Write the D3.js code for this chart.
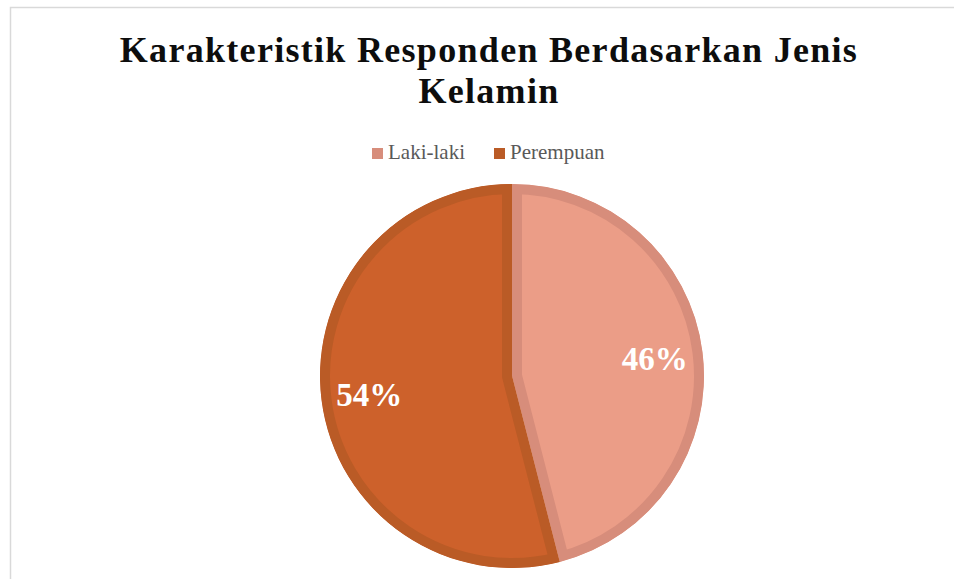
<!DOCTYPE html>
<html>
<head>
<meta charset="utf-8">
<script src="https://cdn.jsdelivr.net/npm/d3@7"></script>
<style>
  html, body { margin: 0; padding: 0; background: #fff; }
  svg { display: block; }
</style>
</head>
<body>
<svg></svg>
<script>
var categories = ["Laki-laki", "Perempuan"];
var values = [46, 54];
var fills = ["#EB9D87", "#CD612B"];
var strokes = ["#D78D7B", "#BA5B26"];
var titleLines = ["Karakteristik Responden Berdasarkan Jenis", "Kelamin"];

var width = 954,
    height = 579;

var svg = d3.select("svg")
    .attr("width", width)
    .attr("height", height)

// chart frame (goes off the right and bottom edges)
svg.append("rect")
    .attr("x", 10.5)
    .attr("y", 7.5)
    .attr("width", 980)
    .attr("height", 600)
    .attr("fill", "#fff")
    .attr("stroke", "#d9d9d9")
    .attr("stroke-width", 1.5)

var serif = "'Liberation Serif', 'DejaVu Serif', serif";

// title
svg.append("g")
    .selectAll("text")
    .data(titleLines)
    .join("text")
    .attr("x", 489)
    .attr("y", (d, i) => 62 + i * 41)
    .attr("text-anchor", "middle")
    .style("font-family", serif)
    .style("font-weight", "bold")
    .style("font-size", "36px")
    .style("letter-spacing", "1.3px")
    .attr("fill", "#0d0d0d")
    .text(d => d)

// legend
var legendX = d3.scalePoint()
    .domain(categories)
    .range([372, 494])

var legend = svg.append("g")
    .selectAll("g")
    .data(categories)
    .join("g")
    .attr("transform", d => "translate(" + legendX(d) + ",148)")

legend.append("rect")
    .attr("width", 11)
    .attr("height", 11)
    .attr("fill", (d, i) => strokes[i])

legend.append("text")
    .attr("x", 16)
    .attr("y", 11)
    .style("font-family", serif)
    .style("font-size", "21px")
    .attr("fill", "#595959")
    .text(d => d)

// pie
var cx = 512,
    cy = 376,
    radius = 192,
    borderW = 10;

var pie = d3.pie()
    .sort(null)
    .value(d => d)

var arcs = pie(values)

var arc = d3.arc()
    .innerRadius(0)
    .outerRadius(radius)

var pieGroup = svg.append("g")
    .attr("transform", "translate(" + cx + "," + cy + ")")

// clip each slice to itself so its border sits inside it
pieGroup.append("defs")
    .selectAll("clipPath")
    .data(arcs)
    .join("clipPath")
    .attr("id", (d, i) => "slice-clip-" + i)
    .append("path")
    .attr("d", arc)

pieGroup.selectAll("path.slice")
    .data(arcs)
    .join("path")
    .attr("class", "slice")
    .attr("d", arc)
    .attr("clip-path", (d, i) => "url(#slice-clip-" + i + ")")
    .attr("fill", (d, i) => fills[i])
    .attr("stroke", (d, i) => strokes[i])
    .attr("stroke-width", borderW * 2)
    .attr("stroke-linejoin", "miter")

// data labels
var labelArc = d3.arc()
    .innerRadius(radius * 0.75)
    .outerRadius(radius * 0.75)

pieGroup.selectAll("text")
    .data(arcs)
    .join("text")
    .attr("transform", d => "translate(" + labelArc.centroid(d) + ")")
    .attr("text-anchor", "middle")
    .attr("dy", "0.35em")
    .style("font-family", serif)
    .style("font-weight", "bold")
    .style("font-size", "33px")
    .attr("fill", "#fff")
    .text(d => d3.format(".0%")(d.value / d3.sum(values)))
</script>
</body>
</html>
